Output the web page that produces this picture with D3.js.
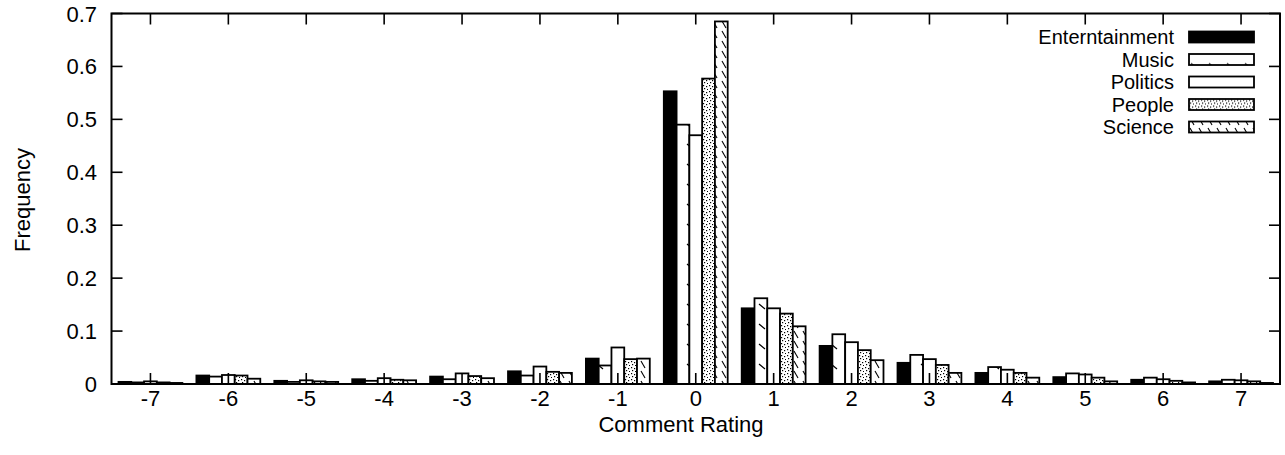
<html lang="en">
<head>
    <meta charset="UTF-8">
    <title>Comment Rating Frequency</title>
    <style>
        body { margin: 0; background: #fff; }
        text { font-family: "Liberation Sans", Arial, Helvetica, sans-serif; fill: #000; font-size: 22px; }
        .legend text { font-size: 20px; }
        .bar { stroke: #000; stroke-width: 1.8px; }
        .border { fill: none; stroke: #000; stroke-width: 2px; }
        .tick { stroke: #000; stroke-width: 1.6px; }
    </style>
</head>
<body>

    <svg width="1285" height="455"></svg>

    <script src="https://d3js.org/d3.v7.min.js" charset="utf-8"></script>
    <script>
        (function() {
            'use strict';

            var LEFT = 111.5, RIGHT = 1280, TOP = 13.5, BOTTOM = 384;
            var TICK_LEN = 11;

            // data
            var ratings = [-7, -6, -5, -4, -3, -2, -1, 0, 1, 2, 3, 4, 5, 6, 7];
            var seriesNames = ["Enterntainment", "Music", "Politics", "People", "Science"];
            var entertainment = [0.004, 0.016, 0.006, 0.009, 0.014, 0.024, 0.048, 0.553, 0.143, 0.072, 0.040, 0.021, 0.013, 0.008, 0.005];
            var music         = [0.003, 0.014, 0.004, 0.006, 0.009, 0.016, 0.035, 0.490, 0.162, 0.094, 0.055, 0.032, 0.020, 0.012, 0.008];
            var politics      = [0.005, 0.017, 0.007, 0.011, 0.020, 0.033, 0.069, 0.470, 0.143, 0.079, 0.047, 0.027, 0.018, 0.009, 0.007];
            var people        = [0.003, 0.016, 0.005, 0.008, 0.015, 0.023, 0.047, 0.577, 0.133, 0.064, 0.036, 0.021, 0.012, 0.006, 0.005];
            var science       = [0.002, 0.010, 0.004, 0.007, 0.011, 0.021, 0.048, 0.685, 0.109, 0.045, 0.021, 0.012, 0.005, 0.003, 0.002];
            var yTicks = [0, 0.1, 0.2, 0.3, 0.4, 0.5, 0.6, 0.7];

            var seriesValues = [entertainment, music, politics, people, science];
            var fills = ["#000", "url(#pat-music)", "#fff", "url(#pat-people)", "url(#pat-science)"];

            var svg = d3.select("svg");

            // fill patterns (gnuplot style)
            var defs = svg.append("defs");

            var pm = defs.append("pattern").attr("id", "pat-music")
                .attr("patternUnits", "userSpaceOnUse").attr("width", 18).attr("height", 20);
            pm.append("rect").attr("width", 18).attr("height", 20).attr("fill", "#fff");
            pm.append("line").attr("x1", 3).attr("y1", 4).attr("x2", 9).attr("y2", 9)
                .attr("stroke", "#000").attr("stroke-width", 1.2);

            var ps = defs.append("pattern").attr("id", "pat-science")
                .attr("patternUnits", "userSpaceOnUse").attr("width", 9).attr("height", 10);
            ps.append("rect").attr("width", 9).attr("height", 10).attr("fill", "#fff");
            ps.append("line").attr("x1", 2).attr("y1", 1).attr("x2", 6).attr("y2", 8)
                .attr("stroke", "#000").attr("stroke-width", 1.1);

            var pp = defs.append("pattern").attr("id", "pat-people")
                .attr("patternUnits", "userSpaceOnUse").attr("width", 6).attr("height", 6);
            pp.append("rect").attr("width", 6).attr("height", 6).attr("fill", "#fff");
            [[1, 1], [4, 2], [2, 4], [5, 5]].forEach(function(p) {
                pp.append("rect").attr("x", p[0]).attr("y", p[1]).attr("width", 1.2).attr("height", 1.2)
                    .attr("fill", "#000");
            });

            // scales
            var x = d3.scaleLinear().domain([-7.5, 7.5]).range([LEFT, RIGHT]);
            var y = d3.scaleLinear().domain([0, 0.7]).range([BOTTOM, TOP]);

            var GROUP = 0.82;
            var xs = d3.scaleBand().domain(d3.range(seriesNames.length))
                .range([-GROUP / 2, GROUP / 2]);

            // bars
            seriesValues.forEach(function(vals, s) {
                svg.append("g").selectAll("rect")
                    .data(vals)
                    .enter()
                    .append("rect")
                    .attr("class", "bar")
                    .attr("fill", fills[s])
                    .attr("x", function(d, i) { return x(ratings[i] + xs(s)); })
                    .attr("width", function(d, i) { return x(ratings[i] + xs(s) + xs.bandwidth()) - x(ratings[i] + xs(s)); })
                    .attr("y", function(d) { return y(d); })
                    .attr("height", function(d) { return BOTTOM - y(d); });
            });

            // ticks (mirrored, inward)
            var tg = svg.append("g");
            ratings.forEach(function(r) {
                tg.append("line").attr("class", "tick")
                    .attr("x1", x(r)).attr("x2", x(r)).attr("y1", BOTTOM).attr("y2", BOTTOM - TICK_LEN);
                tg.append("line").attr("class", "tick")
                    .attr("x1", x(r)).attr("x2", x(r)).attr("y1", TOP).attr("y2", TOP + TICK_LEN);
                tg.append("text")
                    .attr("x", x(r)).attr("y", 406)
                    .attr("text-anchor", "middle")
                    .text(r);
            });
            yTicks.forEach(function(v) {
                tg.append("line").attr("class", "tick")
                    .attr("x1", LEFT).attr("x2", LEFT + TICK_LEN).attr("y1", y(v)).attr("y2", y(v));
                tg.append("line").attr("class", "tick")
                    .attr("x1", RIGHT).attr("x2", RIGHT - TICK_LEN).attr("y1", y(v)).attr("y2", y(v));
                tg.append("text")
                    .attr("x", 97).attr("y", y(v) + 8)
                    .attr("text-anchor", "end")
                    .text(v === 0 ? "0" : d3.format(".1f")(v));
            });

            svg.append("rect").attr("class", "border")
                .attr("x", LEFT).attr("y", TOP)
                .attr("width", RIGHT - LEFT).attr("height", BOTTOM - TOP);

            // axis titles
            svg.append("text")
                .attr("x", 681).attr("y", 432)
                .attr("text-anchor", "middle")
                .text("Comment Rating");

            svg.append("text")
                .attr("transform", "translate(30,200) rotate(-90)")
                .attr("text-anchor", "middle")
                .text("Frequency");

            // legend
            var legend = svg.append("g").attr("class", "legend").selectAll("g")
                .data(seriesNames)
                .enter()
                .append("g")
                .attr("transform", function(d, i) { return "translate(0," + (37 + i * 22.5) + ")"; });

            legend.append("text")
                .attr("x", 1174).attr("y", 7)
                .attr("text-anchor", "end")
                .text(function(d) { return d; });

            legend.append("rect")
                .attr("class", "bar")
                .attr("x", 1189).attr("y", -5.5)
                .attr("width", 65).attr("height", 11)
                .attr("fill", function(d, i) { return fills[i]; });
        })();
    </script>
</body>
</html>
